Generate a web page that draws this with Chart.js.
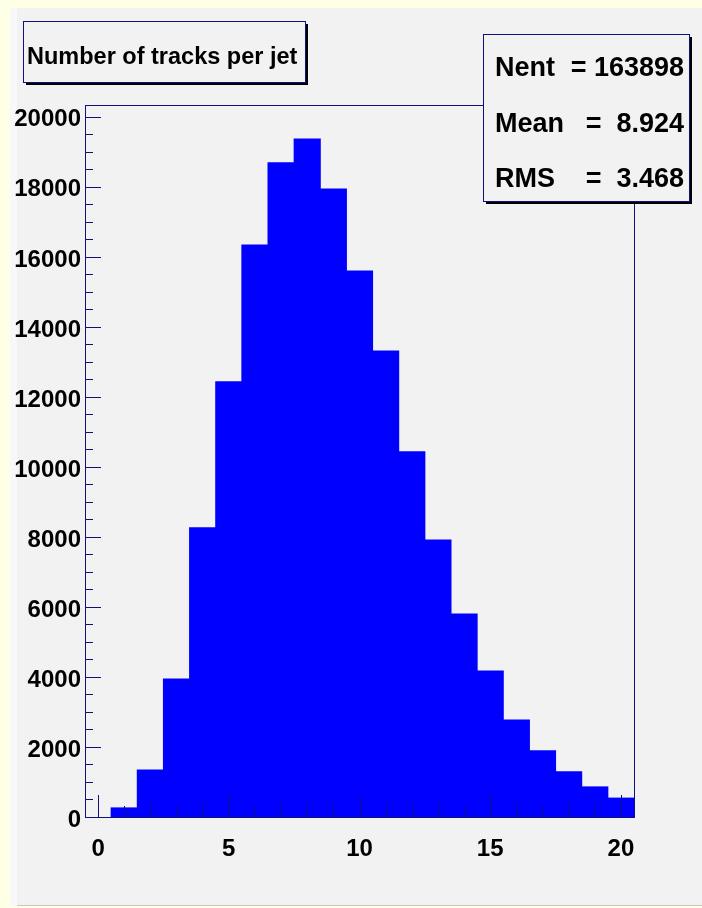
<!DOCTYPE html>
<html>
<head>
<meta charset="utf-8">
<script src="https://cdn.jsdelivr.net/npm/chart.js@4.4.1/dist/chart.umd.min.js"></script>
<style>
  html, body { margin: 0; padding: 0; background: #ffffe6; }
  #wrap { width: 702px; height: 908px; }
</style>
</head>
<body>
<div id="wrap"><canvas id="c" width="702" height="908"></canvas></div>
<script>
// --- data ---
const binCenters = [0, 1, 2, 3, 4, 5, 6, 7, 8, 9, 10, 11, 12, 13, 14, 15, 16, 17, 18, 19, 20];
const counts = [0, 260, 1340, 3940, 8260, 12430, 16340, 18690, 19370, 17940, 15600,
                13310, 10430, 7910, 5800, 4170, 2770, 1890, 1290, 860, 540];
const xTickLabels = [0, 5, 10, 15, 20];
const yTickLabels = [0, 2000, 4000, 6000, 8000, 10000, 12000, 14000, 16000, 18000, 20000];
const titleText = 'Number of tracks per jet';
const statNames = ['Nent', 'Mean', 'RMS'];
const statValues = ['= 163898', '=  8.924', '=  3.468'];

const FONT = "'Liberation Sans', Arial, sans-serif";
const NAVY = '#10107f';

// ROOT-ish look: pad, frame, inward ticks, title pave, stats box
const rootLook = {
    id: 'rootLook',
    beforeDraw(chart) {
        const c = chart.ctx;
        c.save();
        c.fillStyle = '#ffffe6';
        c.fillRect(0, 0, chart.width, chart.height);
        c.fillStyle = '#f2f2f2';
        c.fillRect(10, 8, 692, 898);
        c.fillStyle = '#f8f8f8';
        c.fillRect(10, 8, 7, 898);
        c.fillStyle = '#c8c8c8';
        c.fillRect(17, 905, 685, 1);
        c.restore();
    },
    afterDatasetsDraw(chart) {
        const c = chart.ctx;
        const a = chart.chartArea;
        const xs = chart.scales.x, ys = chart.scales.y;
        c.save();
        c.strokeStyle = NAVY;
        c.lineWidth = 1;
        c.strokeRect(a.left + 0.5, a.top + 0.5, a.right - a.left, a.bottom - a.top);
        c.beginPath();
        // x ticks: major every 5, minor every 1
        for (let v = 0; v <= 20; v++) {
            const px = Math.round(xs.getPixelForValue(v)) + 0.5;
            const len = v % 5 === 0 ? 22 : 11;
            c.moveTo(px, a.bottom);
            c.lineTo(px, a.bottom - len);
        }
        // y ticks: major every 2000, minor every 500
        for (let v = 0; v <= 20000; v += 500) {
            const py = Math.round(ys.getPixelForValue(v)) + 0.5;
            const len = v % 2000 === 0 ? 16 : 8;
            c.moveTo(a.left, py);
            c.lineTo(a.left + len, py);
        }
        c.stroke();
        c.restore();
    },
    afterDraw(chart) {
        const c = chart.ctx;
        const box = (x, y, w, h, sh) => {
            c.fillStyle = '#000';
            c.fillRect(x + sh, y + sh, w, h);
            c.fillStyle = '#f2f2f2';
            c.fillRect(x, y, w, h);
            c.strokeStyle = NAVY;
            c.lineWidth = 1;
            c.strokeRect(x + 0.5, y + 0.5, w, h);
        };
        c.save();
        // title pave
        box(23, 21, 282, 61, 3);
        c.fillStyle = '#000';
        c.font = 'bold 23.5px ' + FONT;
        c.textAlign = 'left';
        c.textBaseline = 'alphabetic';
        c.fillText(titleText, 27, 64);
        // stats box
        box(483, 34, 206, 167, 3);
        c.fillStyle = '#000';
        c.font = 'bold 27px ' + FONT;
        const baselines = [76, 132, 187];
        statNames.forEach((n, i) => {
            c.textAlign = 'left';
            c.fillText(n, 495, baselines[i]);
            c.textAlign = 'right';
            c.fillText(statValues[i], 684, baselines[i]);
        });
        c.restore();
    }
};

const yMax = Math.max(...counts) * 1.05;

new Chart(document.getElementById('c'), {
    type: 'bar',
    data: {
        datasets: [{
            data: binCenters.map((x, i) => ({ x, y: counts[i] })),
            backgroundColor: '#0000ff',
            borderWidth: 0,
            inflateAmount: (ctx) => (ctx.raw && ctx.raw.y > 0 ? 0.5 : 0),
            barPercentage: 1,
            categoryPercentage: 1
        }]
    },
    options: {
        responsive: false,
        animation: false,
        devicePixelRatio: 1,
        layout: { padding: { left: 0, right: 68, top: 105, bottom: 0 } },
        plugins: { legend: { display: false }, tooltip: { enabled: false } },
        scales: {
            x: {
                type: 'linear',
                offset: false,
                min: -0.5,
                max: 20.5,
                grid: { display: false, drawTicks: false },
                border: { display: false },
                afterBuildTicks: (s) => { s.ticks = xTickLabels.map(v => ({ value: v })); },
                afterFit: (s) => { s.height = 91; },
                ticks: {
                    color: '#000', padding: 18, maxRotation: 0, autoSkip: false,
                    callback: (v) => String(v),
                    font: { family: FONT, size: 24, weight: 'bold' }
                }
            },
            y: {
                min: 0,
                max: yMax,
                grid: { display: false, drawTicks: false },
                border: { display: false },
                afterBuildTicks: (s) => { s.ticks = yTickLabels.map(v => ({ value: v })); },
                afterFit: (s) => { s.width = 85; },
                ticks: {
                    color: '#000', padding: 4, labelOffset: 3, autoSkip: false,
                    callback: (v) => String(v),
                    font: { family: FONT, size: 24, weight: 'bold' }
                }
            }
        }
    },
    plugins: [rootLook]
});
</script>
</body>
</html>
